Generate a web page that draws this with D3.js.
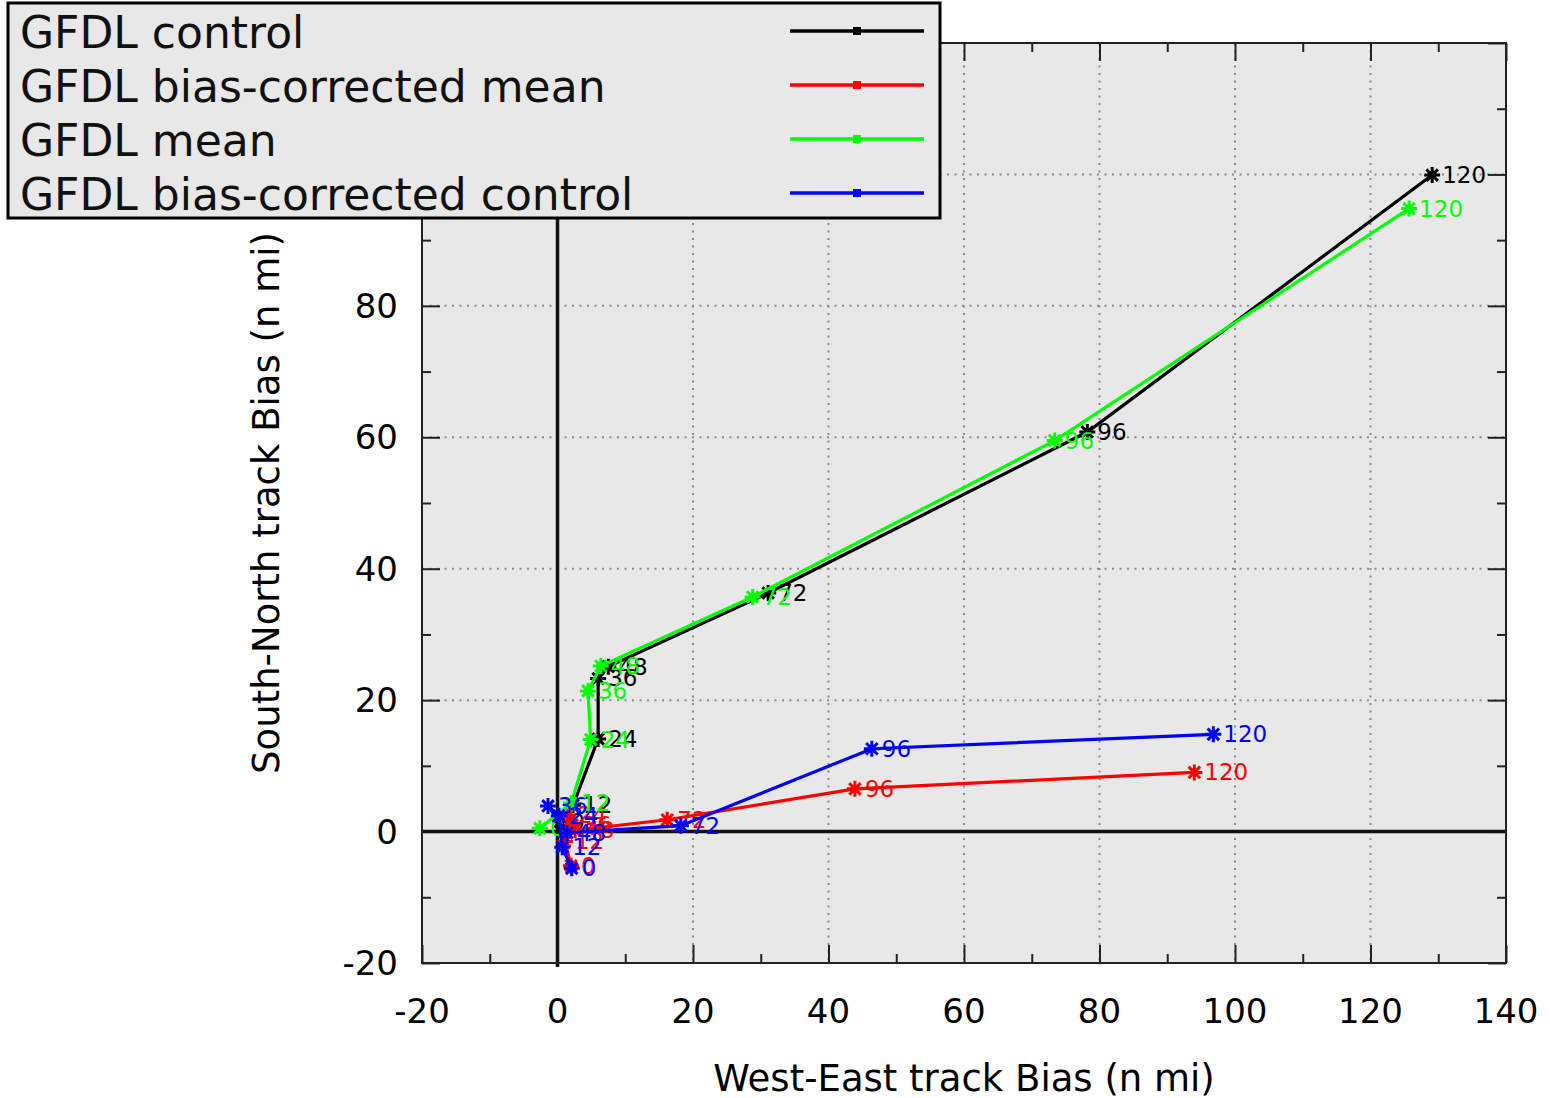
<!DOCTYPE html>
<html>
<head>
<meta charset="utf-8">
<script src="https://cdn.jsdelivr.net/npm/d3@7"></script>
<style>
body { margin: 0; background: #fff; }
text { font-family: "DejaVu Sans", sans-serif; }
</style>
</head>
<body>
<svg id="chart" width="1550" height="1098"></svg>
<script>
// Chart values
const leadHours = [0, 12, 24, 36, 48, 72, 96, 120]
const seriesNames = ['GFDL control', 'GFDL bias-corrected mean', 'GFDL mean', 'GFDL bias-corrected control']
const seriesColors = ['#000000', '#ff0000', '#00ff00', '#0000ff']
const controlX = [0.4, 2.3, 6.0, 6.0, 7.5, 31.1, 78.2, 129.1]
const controlY = [1.5, 4.0, 14.1, 23.3, 25.1, 36.3, 60.8, 99.9]
const bcMeanX = [2.0, 1.1, 1.5, 2.2, 2.6, 16.2, 43.9, 94.0]
const bcMeanY = [-5.2, -1.5, 2.5, 1.0, 0.2, 1.8, 6.5, 9.0]
const meanX = [-2.6, 2.0, 4.9, 4.5, 6.4, 28.8, 73.4, 125.7]
const meanY = [0.5, 4.3, 14.0, 21.4, 25.2, 35.7, 59.5, 94.8]
const bcControlX = [2.1, 0.7, 0.2, -1.4, 1.4, 18.2, 46.4, 96.8]
const bcControlY = [-5.6, -2.4, 2.4, 3.9, -0.2, 0.9, 12.6, 14.8]
const xTicks = [-20, 0, 20, 40, 60, 80, 100, 120, 140]
const yTicks = [-20, 0, 20, 40, 60, 80, 100, 120]
const xMinorTicks = [-10, 10, 30, 50, 70, 90, 110, 130]
const yMinorTicks = [-10, 10, 30, 50, 70, 90, 110]

const allX = [controlX, bcMeanX, meanX, bcControlX]
const allY = [controlY, bcMeanY, meanY, bcControlY]
const series = seriesNames.map((name, i) => ({
    name: name,
    color: seriesColors[i],
    points: leadHours.map((h, j) => ({hour: h, x: allX[i][j], y: allY[i][j]}))
}))

const margin = {top: 43, right: 44, bottom: 135, left: 422}
const width = 1550 - margin.left - margin.right
const height = 1098 - margin.top - margin.bottom
const bg = '#e8e8e8'

const svg = d3.select('#chart')
const g = svg.append('g')
    .attr('transform', 'translate(' + margin.left + ',' + margin.top + ')')

const x = d3.scaleLinear().domain([-20, 140]).range([0, width])
const y = d3.scaleLinear().domain([-20, 120]).range([height, 0])

// plot background
g.append('rect')
    .attr('width', width)
    .attr('height', height)
    .attr('fill', bg)

// dotted grid
g.selectAll('.vgrid')
    .data(xTicks.filter(d => d > -20 && d < 140 && d != 0))
    .enter().append('line')
    .attr('x1', d => x(d)).attr('x2', d => x(d))
    .attr('y1', 0).attr('y2', height)
    .attr('stroke', '#8a8a8a').attr('stroke-width', 2)
    .attr('stroke-dasharray', '2,5.5')
g.selectAll('.hgrid')
    .data(yTicks.filter(d => d > -20 && d < 120 && d != 0))
    .enter().append('line')
    .attr('x1', 0).attr('x2', width)
    .attr('y1', d => y(d)).attr('y2', d => y(d))
    .attr('stroke', '#8a8a8a').attr('stroke-width', 2)
    .attr('stroke-dasharray', '2,5.5')

// ticks on all four sides, pointing inward
const drawAxis = (axis, tx, ty) => {
    let a = g.append('g')
        .attr('transform', 'translate(' + tx + ',' + ty + ')')
        .call(axis)
    a.select('.domain').remove()
    a.selectAll('line').attr('stroke', '#222').attr('stroke-width', 2)
    return a
}
const noLabel = () => ''
drawAxis(d3.axisBottom(x).tickValues(xTicks).tickSize(-18).tickFormat(noLabel), 0, height)
drawAxis(d3.axisBottom(x).tickValues(xMinorTicks).tickSize(-9).tickFormat(noLabel), 0, height)
drawAxis(d3.axisTop(x).tickValues(xTicks).tickSize(-18).tickFormat(noLabel), 0, 0)
drawAxis(d3.axisTop(x).tickValues(xMinorTicks).tickSize(-9).tickFormat(noLabel), 0, 0)
drawAxis(d3.axisLeft(y).tickValues(yTicks).tickSize(-18).tickFormat(noLabel), 0, 0)
drawAxis(d3.axisLeft(y).tickValues(yMinorTicks).tickSize(-9).tickFormat(noLabel), 0, 0)
drawAxis(d3.axisRight(y).tickValues(yTicks).tickSize(-18).tickFormat(noLabel), width, 0)
drawAxis(d3.axisRight(y).tickValues(yMinorTicks).tickSize(-9).tickFormat(noLabel), width, 0)

// tick labels
g.selectAll('.xlab')
    .data(xTicks)
    .enter().append('text')
    .attr('x', d => x(d))
    .attr('y', height + 60)
    .attr('text-anchor', 'middle')
    .attr('font-size', 34)
    .text(d => String(d))
g.selectAll('.ylab')
    .data(yTicks)
    .enter().append('text')
    .attr('x', -24)
    .attr('y', d => y(d) + 12)
    .attr('text-anchor', 'end')
    .attr('font-size', 34)
    .text(d => String(d))

// zero axes
g.append('line')
    .attr('x1', 0).attr('x2', width)
    .attr('y1', y(0)).attr('y2', y(0))
    .attr('stroke', '#111').attr('stroke-width', 3.5)
g.append('line')
    .attr('x1', x(0)).attr('x2', x(0))
    .attr('y1', 0).attr('y2', height + 4)
    .attr('stroke', '#111').attr('stroke-width', 3.5)

// border
g.append('rect')
    .attr('width', width)
    .attr('height', height)
    .attr('fill', 'none')
    .attr('stroke', '#222')
    .attr('stroke-width', 2)

// series: lines, star markers, hour labels
const line = d3.line().x(d => x(d.x)).y(d => y(d.y))
const star = s => {
    let k = s * 0.72
    return 'M' + (-s) + ',0H' + s + 'M0,' + (-s) + 'V' + s +
        'M' + (-k) + ',' + (-k) + 'L' + k + ',' + k +
        'M' + (-k) + ',' + k + 'L' + k + ',' + (-k)
}

series.forEach(s => {
    let sg = g.append('g')
    sg.append('path')
        .datum(s.points)
        .attr('d', line)
        .attr('fill', 'none')
        .attr('stroke', s.color)
        .attr('stroke-width', 3.2)
    sg.selectAll('.mark')
        .data(s.points)
        .enter().append('path')
        .attr('transform', d => 'translate(' + x(d.x) + ',' + y(d.y) + ')')
        .attr('d', star(8))
        .attr('stroke', s.color)
        .attr('stroke-width', 3)
    sg.selectAll('.hour')
        .data(s.points)
        .enter().append('text')
        .attr('x', d => x(d.x) + 10)
        .attr('y', d => y(d.y) + 8)
        .attr('font-size', 23)
        .attr('fill', s.color)
        .text(d => d.hour)
})

// axis titles
svg.append('text')
    .attr('x', margin.left + width / 2)
    .attr('y', 1091)
    .attr('text-anchor', 'middle')
    .attr('font-size', 37)
    .text('West-East track Bias (n mi)')
svg.append('text')
    .attr('transform', 'translate(279,' + (margin.top + height / 2) + ') rotate(-90)')
    .attr('text-anchor', 'middle')
    .attr('font-size', 37)
    .text('South-North track Bias (n mi)')

// legend
const legend = svg.append('g')
legend.append('rect')
    .attr('x', 8).attr('y', 3)
    .attr('width', 932).attr('height', 215)
    .attr('fill', bg)
    .attr('stroke', '#000')
    .attr('stroke-width', 3)
const rows = legend.selectAll('.row')
    .data(series)
    .enter().append('g')
    .attr('transform', (d, i) => 'translate(0,' + (31 + i * 54) + ')')
rows.append('text')
    .attr('x', 20)
    .attr('y', 17)
    .attr('font-size', 44)
    .attr('fill', '#111')
    .text(d => d.name)
rows.append('line')
    .attr('x1', 790).attr('x2', 924)
    .attr('y1', 0).attr('y2', 0)
    .attr('stroke', d => d.color)
    .attr('stroke-width', 3.5)
rows.append('rect')
    .attr('x', 853).attr('y', -4)
    .attr('width', 8).attr('height', 8)
    .attr('fill', d => d.color)
</script>
</body>
</html>
